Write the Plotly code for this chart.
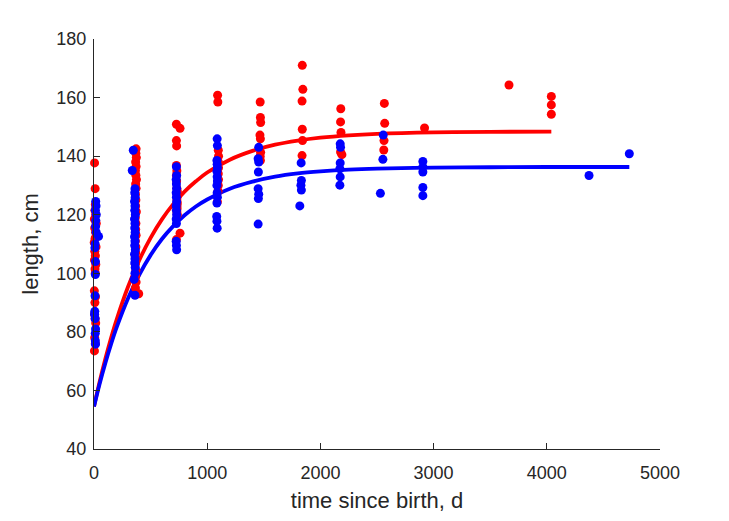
import plotly.graph_objects as go

# ---- data ----
# females (red) observations: time since birth (d), length (cm)
red_t = [5, 10, 12, 8, 15, 3, 20, 6, 14, 10, 2, 18, 7, 12, 4, 16, 9, 11, 3, 13, 8, 5, 10, 15, 6, 12, 4,
         372, 370, 374, 368, 372, 366, 370, 375, 368, 372, 366, 370, 368, 374, 365, 370, 368, 372, 366, 370, 368, 372, 365, 370, 368, 372, 366, 395,
         728, 760, 728, 730, 728, 732, 728, 730, 732, 734, 732, 734, 732, 760, 728, 736, 734, 736, 734, 736,
         1092, 1094, 1098, 1100, 1098, 1100, 1098, 1100, 1098, 1096, 1090,
         1468, 1470, 1472, 1466, 1470, 1472, 1468, 1470,
         1840, 1845, 1838, 1840, 1842, 1838,
         2180, 2178, 2182, 2178, 2190,
         2565, 2568, 2562, 2560,
         2920,
         3666,
         4040, 4040, 4040]
red_L = [137.7, 128.9, 123.5, 121.5, 120, 118.5, 117, 115.5, 114, 112, 110.5, 109, 107.5, 106, 104.5, 103, 101.5, 100, 94, 92, 90, 86, 84.5, 83, 78, 76, 73.5,
         142.5, 141, 139.5, 138, 136.5, 135, 133.5, 132, 130.5, 129, 127, 125, 123, 121, 119, 117, 115, 113, 111, 109, 107, 105, 103, 101, 99, 97, 95, 93,
         150.9, 149.5, 145.3, 143.5, 136.8, 135, 133.4, 131.5, 129, 127, 125, 123, 121, 113.7, 111.5, 128, 126, 124, 122, 120,
         160.8, 158.5, 142, 140, 138, 136, 134, 132, 130, 128, 124.4,
         158.5, 153.2, 151.5, 147.2, 145.9, 141.3, 140, 138.5,
         171, 162.8, 158.8, 149.2, 145.3, 140.2,
         156.2, 151.7, 148.1, 141.4, 140.5,
         158, 151.2, 145.3, 142.1,
         149.6,
         164.3,
         160.4, 157.5, 154.3]

# males (blue) observations
blue_t = [15, 18, 12, 20, 16, 14, 19, 40, 10, 8, 13, 12, 9, 7, 5, 10, 14, 11, 12, 13,
          347, 338, 362, 360, 364, 358, 362, 360, 365, 358, 362, 360, 364, 358, 362, 360, 365, 358, 362, 360, 364, 362, 355, 362,
          728, 730, 726, 728, 730, 726, 728, 730, 726, 728, 730, 726, 728, 726, 728, 730,
          1088, 1090, 1086, 1088, 1090, 1086, 1088, 1090, 1086, 1088, 1090, 1086, 1084, 1086, 1088,
          1455, 1450, 1455, 1452, 1450, 1455, 1452, 1450,
          1830, 1832, 1828, 1832, 1818,
          2175, 2178, 2175, 2172, 2175, 2172,
          2555, 2552, 2530,
          2905, 2905, 2905, 2905, 2905,
          4373,
          4729]
blue_L = [124.5, 123, 121.5, 120, 118, 116, 114, 112.6, 110, 108.7, 104, 99.6, 92.3, 87, 86, 84.5, 81, 79.5, 77, 75.8,
          142, 135.1, 128.9, 127.5, 126, 124.5, 123, 121.5, 120, 118.5, 117, 115.5, 114, 112.5, 111, 109.5, 108, 106.5, 105, 103.5, 102, 100, 97.9, 92.5,
          136.4, 133.4, 132, 130.5, 129, 127.5, 126, 124.4, 123, 121.5, 120, 118.5, 117, 110.9, 109.5, 108,
          145.9, 143.6, 138.5, 137.2, 136, 134.8, 133, 131.5, 130, 127.5, 126, 124, 119.4, 117.8, 115.4,
          143, 139.1, 138, 134.6, 128.9, 127, 125.5, 116.8,
          137.7, 131.7, 130.1, 128.4, 123,
          144.2, 143, 137.7, 135.7, 132.9, 130.1,
          147.2, 138.9, 127.3,
          138.2, 136.3, 134.6, 129.3, 126.5,
          133.4,
          140.8]

# fitted growth curves
red_fit_t = [0, 50, 100, 150, 200, 300, 400, 500, 600, 700, 800, 900, 1000, 1200, 1400, 1600, 1800, 2000, 2250, 2500, 3000, 3500, 4040]
red_fit_L = [54.5, 63.0, 70.7, 77.8, 84.2, 95.3, 104.5, 112.1, 118.4, 123.6, 127.9, 131.4, 134.4, 138.8, 141.8, 143.9, 145.3, 146.3, 147.1, 147.6, 148.1, 148.3, 148.4]
blue_fit_t = [0, 50, 100, 150, 200, 300, 400, 500, 600, 700, 800, 900, 1000, 1200, 1400, 1600, 1800, 2000, 2250, 2500, 3000, 3500, 4000, 4729]
blue_fit_L = [54.5, 62.3, 69.3, 75.7, 81.5, 91.4, 99.5, 106.2, 111.7, 116.1, 119.8, 122.8, 125.2, 128.9, 131.3, 133.0, 134.1, 134.8, 135.4, 135.75, 136.1, 136.2, 136.3, 136.3]

x_ticks = [0, 1000, 2000, 3000, 4000, 5000]
y_ticks = [40, 60, 80, 100, 120, 140, 160, 180]

AX = "#262626"
FONT = "Liberation Sans"

fig = go.Figure()
fig.add_trace(go.Scatter(x=red_fit_t, y=red_fit_L, mode="lines", line=dict(color="#ff0000", width=3.8, shape="spline"),
                         hoverinfo="skip", cliponaxis=False))
fig.add_trace(go.Scatter(x=blue_fit_t, y=blue_fit_L, mode="lines", line=dict(color="#0000ff", width=3.8, shape="spline"),
                         hoverinfo="skip", cliponaxis=False))
fig.add_trace(go.Scatter(x=red_t, y=red_L, mode="markers", marker=dict(color="#ff0000", size=9, line=dict(width=0)),
                         cliponaxis=False))
fig.add_trace(go.Scatter(x=blue_t, y=blue_L, mode="markers", marker=dict(color="#0000ff", size=9, line=dict(width=0)),
                         cliponaxis=False))

fig.update_layout(
    width=729, height=521,
    margin=dict(l=94, r=69, t=39, b=68),
    paper_bgcolor="white", plot_bgcolor="white",
    showlegend=False,
    font=dict(family=FONT, color=AX, size=18),
    xaxis=dict(range=[0, 5000], tickvals=x_ticks, ticks="inside", ticklen=6, tickcolor=AX, tickwidth=1,
               showline=True, linecolor=AX, linewidth=1, showgrid=False, zeroline=False,
               tickfont=dict(size=18, color=AX), ticklabelstandoff=7,
               title=dict(text="time since birth, d", font=dict(size=22, color=AX), standoff=11)),
    yaxis=dict(range=[40, 180], tickvals=y_ticks, ticks="inside", ticklen=6, tickcolor=AX, tickwidth=1,
               showline=True, linecolor=AX, linewidth=1, showgrid=False, zeroline=False,
               tickfont=dict(size=18, color=AX), ticklabelstandoff=3,
               title=dict(text="length, cm", font=dict(size=22, color=AX), standoff=11)),
)

fig.write_html("out.html")
